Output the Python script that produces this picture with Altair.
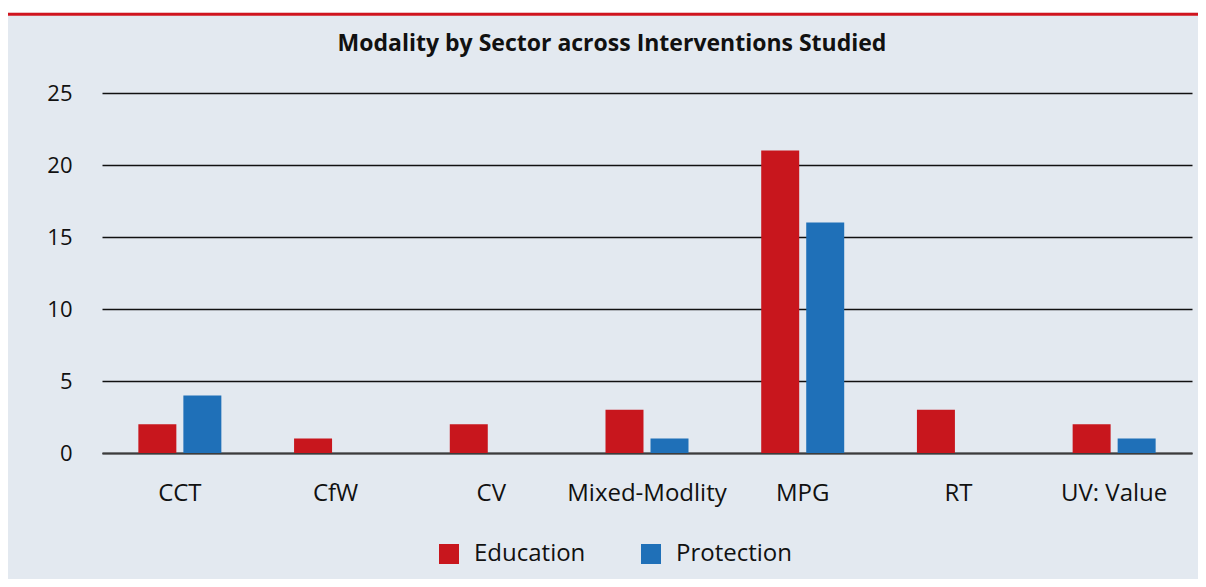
import altair as alt
import pandas as pd

categories = ["CCT", "CfW", "CV", "Mixed-Modlity", "MPG", "RT", "UV: Value"]
education = [2, 1, 2, 3, 21, 3, 2]
protection = [4, 0, 0, 1, 16, 0, 1]
series = ["Education", "Protection"]
colors = ["#c8161d", "#1f70b8"]
y_ticks = [0, 5, 10, 15, 20, 25]

rows = []
for c, e, p in zip(categories, education, protection):
    rows.append({"cat": c, "sector": "Education", "value": e})
    rows.append({"cat": c, "sector": "Protection", "value": p})
df = pd.DataFrame(rows)

FONT = "Open Sans"
BG = "#e3e9f0"
W, H = 1090, 360

bars = alt.Chart(df).mark_bar().encode(
    x=alt.X("cat:N", sort=categories,
            scale=alt.Scale(paddingInner=0.467, paddingOuter=0.2335),
            axis=alt.Axis(title=None, labelAngle=0, ticks=False, labelFontSize=24,
                          labelFont=FONT, labelColor="#111111", labelPadding=28,
                          domain=True, domainColor="#3c3c3c", domainWidth=2.2,
                          grid=False)),
    xOffset=alt.XOffset("sector:N", sort=series,
                        scale=alt.Scale(paddingInner=0.156, paddingOuter=0)),
    y=alt.Y("value:Q", scale=alt.Scale(domain=[0, 25], nice=False),
            axis=alt.Axis(title=None, values=y_ticks, ticks=False, domain=False,
                          labelFontSize=22, labelFont=FONT, labelColor="#111111",
                          labelPadding=30, grid=True, gridColor="#111111",
                          gridWidth=1.5)),
    color=alt.Color("sector:N", sort=series,
                    scale=alt.Scale(domain=series, range=colors),
                    legend=alt.Legend(title=None, orient="none", direction="horizontal",
                                      legendX=335, legendY=449, symbolType="square",
                                      symbolSize=400, symbolStrokeWidth=0,
                                      symbolOpacity=1,
                                      labelFontSize=24, labelFont=FONT,
                                      labelColor="#111111", labelOffset=13,
                                      columnPadding=53, padding=0)),
)

one = pd.DataFrame({"k": [0]})
white_strip = alt.Chart(one).mark_rect(color="white").encode(
    x=alt.value(-94), x2=alt.value(W + 6),
    y=alt.value(-85), y2=alt.value(-80.3),
)
red_line = alt.Chart(one).mark_rule(color="#d0141e", strokeWidth=3).encode(
    x=alt.value(-94), x2=alt.value(W + 6),
    y=alt.value(-78.8),
)

chart = alt.layer(white_strip, red_line, bars).properties(
    width=W, height=H,
    title=alt.TitleParams("Modality by Sector across Interventions Studied",
                          font=FONT, fontSize=23, fontWeight="bold", color="#111111",
                          anchor="middle", dx=-35, offset=-66, baseline="alphabetic"),
    autosize=alt.AutoSizeParams(type="none"),
    padding={"left": 94, "top": 85, "right": 6, "bottom": 126},
    background=BG,
).configure_view(stroke=None)

chart.save("out.html", embed_options={"renderer": "svg", "actions": False})
